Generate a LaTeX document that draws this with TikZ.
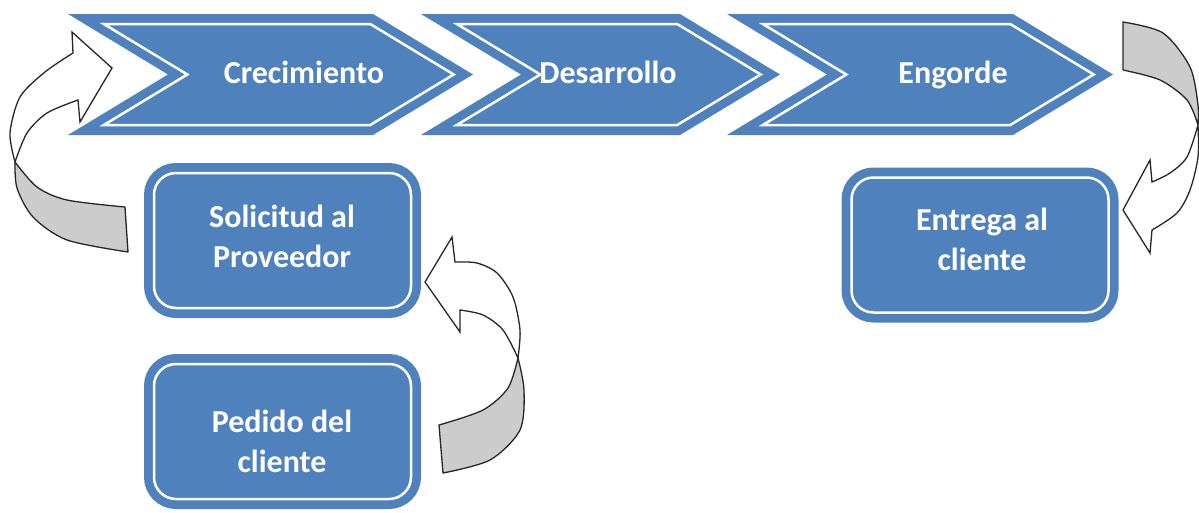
\documentclass[tikz,border=0pt]{standalone}
\usepackage{fontspec}
\setmainfont{Carlito}
\definecolor{office}{HTML}{4F81BD}

% Chevron of the process band: #1 = left edge, #2 = right tip (outer outline),
% a thin white line runs 10 units inside the outline.
\newcommand\processchevron[2]{%
  \fill[office] (#1,14) -- (#2-100,14) -- (#2,74.5) -- (#2-100,135)
        -- (#1,135) -- (#1+100,74.5) -- cycle;
  \draw[chevline] (#1+35.85,24) -- (#2-102.8,24) -- (#2-19.3,74.5)
        -- (#2-102.8,125) -- (#1+35.85,125) -- (#1+119.3,74.5) -- cycle;
}

\begin{document}
\begin{tikzpicture}[
  x=1pt, y=-1pt,
  chevline/.style={draw=white, line width=2.5pt, line join=miter},
  box/.style={rectangle, rounded corners=22pt, draw=office, fill=office,
    double=white, double distance=2.5pt, line width=8.75pt,
    minimum width=257pt, minimum height=135pt, inner sep=0pt},
  caption/.style={text=white, font=\fontsize{32}{40}\selectfont\bfseries,
    align=center, inner sep=0pt},
  ribbon back/.style={fill=black!20, draw=black!85, line width=1.3pt, line join=round},
  ribbon front/.style={fill=white, draw=black!85, line width=1.3pt, line join=miter},
]
\useasboundingbox (0,0) rectangle (1199,512);

% process band
\processchevron{68}{473}
\processchevron{421}{780}
\processchevron{727}{1113}
\node[caption, anchor=base] (crec) at (304,83) {Crecimiento};
\node[caption, anchor=base] (desa) at (608,83) {Desarrollo};
\node[caption, anchor=base] (engo) at (953,83) {Engorde};

% rounded boxes
\node[box] (soli) at (282.5,240.5) {};
\node[box] (pedi) at (282.5,431.5) {};
\node[box] (entr) at (980,245) {};
\node[caption] (soliT) at (282,236) {Solicitud al\\Proveedor};
\node[caption] (pediT) at (282,441) {Pedido del\\cliente};
\node[caption] (entrT) at (982,239) {Entrega al\\cliente};

% ribbon arrow: Solicitud al Proveedor -> Crecimiento
\path[ribbon back] plot[smooth] coordinates {(15,162) (17,188) (33,217) (67,240) (128,252)}
  -- (125,207) -- plot[smooth] coordinates {(125,207) (67,200) (37,187) (15,162)} -- cycle;
\path[ribbon front] plot[smooth] coordinates {(15,162) (10,133) (20,97) (45,72) (73,53)}
  -- (72,32) -- (112,68) -- (80,122)
  -- plot[smooth] coordinates {(78,100) (47,113) (27,133) (15,162)} -- cycle;

% ribbon arrow: Pedido del cliente -> Solicitud al Proveedor
\path[ribbon back] plot[smooth] coordinates {(518,358) (524,390) (520,430) (490,460) (443,473)}
  -- (439,425) -- plot[smooth] coordinates {(439,425) (483,410) (508,388) (518,358)} -- cycle;
\path[ribbon front] plot[smooth] coordinates {(518,358) (520,330) (513,297) (497,273) (477,263) (455,262)}
  -- (452,237) -- (425,282) -- (460,332)
  -- plot[smooth] coordinates {(460,310) (483,315) (503,330) (518,358)} -- cycle;

% ribbon arrow: Engorde -> Entrega al cliente
\path[ribbon back] plot[smooth] coordinates {(1198,125) (1198,105) (1190,67) (1163,33) (1123,22)}
  -- (1123,70) -- plot[smooth] coordinates {(1123,70) (1160,80) (1187,100) (1198,125)} -- cycle;
\path[ribbon front] plot[smooth] coordinates {(1198,125) (1198,157) (1190,190) (1177,213) (1152,230)}
  -- (1150,253) -- (1123,210) -- (1150,160)
  -- plot[smooth] coordinates {(1152,182) (1170,173) (1187,157) (1198,125)} -- cycle;
\end{tikzpicture}
\end{document}
